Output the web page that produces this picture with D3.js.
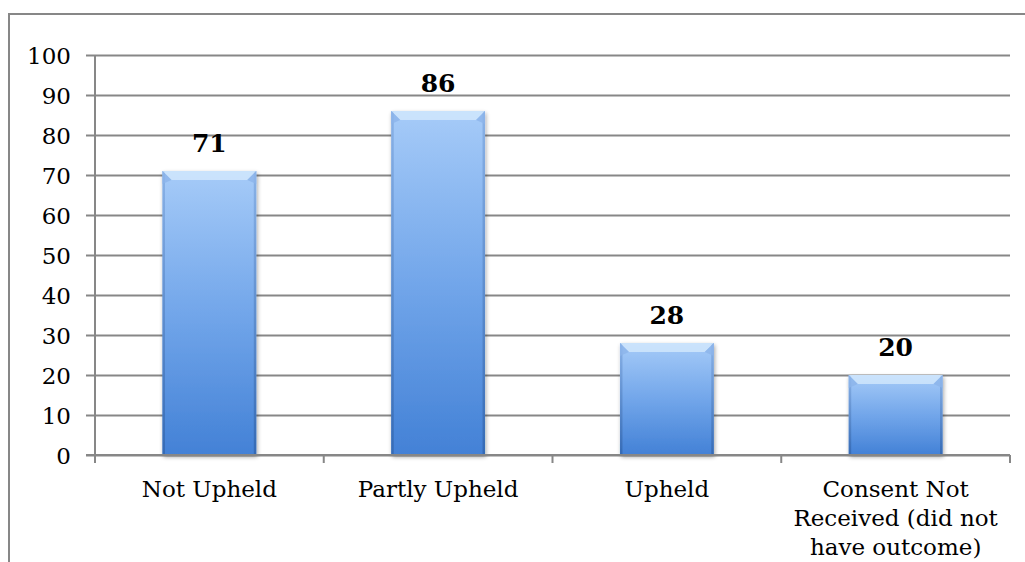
<!DOCTYPE html>
<html>
<head>
<meta charset="utf-8">
<script src="https://cdn.jsdelivr.net/npm/d3@7/dist/d3.min.js"></script>
<style>
  html, body { margin: 0; padding: 0; background: #ffffff; }
  svg { display: block; }
  text { font-family: "DejaVu Serif", "Liberation Serif", serif; fill: #000; }
</style>
</head>
<body>
<svg id="chart" width="1025" height="562"></svg>
<script>
const categories = ["Not Upheld", "Partly Upheld", "Upheld", "Consent Not Received (did not have outcome)"];
const values = [71, 86, 28, 20];
const yTicks = [0, 10, 20, 30, 40, 50, 60, 70, 80, 90, 100];

const svg = d3.select("#chart");
const plot = { left: 95, right: 1010, top: 55, bottom: 455 };

// outer frame (extends past right/bottom edges like the reference)
svg.append("rect")
  .attr("x", 9).attr("y", 14).attr("width", 1030).attr("height", 560)
  .attr("fill", "#fff").attr("stroke", "#878787").attr("stroke-width", 2);

const x = d3.scaleBand().domain(categories).range([plot.left, plot.right]).padding(0);
const y = d3.scaleLinear().domain([0, 100]).range([plot.bottom, plot.top]);

const defs = svg.append("defs");
const grad = defs.append("linearGradient").attr("id", "barGrad")
  .attr("x1", 0).attr("y1", 0).attr("x2", 0).attr("y2", 1);
grad.append("stop").attr("offset", "0%").attr("stop-color", "#a6cbf8");
grad.append("stop").attr("offset", "50%").attr("stop-color", "#72a6ea");
grad.append("stop").attr("offset", "100%").attr("stop-color", "#4381d6");

const sideGrad = defs.append("linearGradient").attr("id", "sideGrad")
  .attr("x1", 0).attr("y1", 0).attr("x2", 0).attr("y2", 1);
sideGrad.append("stop").attr("offset", "0%").attr("stop-color", "#7ea8e0");
sideGrad.append("stop").attr("offset", "100%").attr("stop-color", "#2f61a8");

const shadow = defs.append("filter").attr("id", "shadow")
  .attr("x", "-10%").attr("y", "-10%").attr("width", "130%").attr("height", "130%");
shadow.append("feGaussianBlur").attr("in", "SourceAlpha").attr("stdDeviation", 2);
shadow.append("feOffset").attr("dx", 1).attr("dy", 2).attr("result", "off");
shadow.append("feComponentTransfer").append("feFuncA").attr("type", "linear").attr("slope", 0.35);
const merge = shadow.append("feMerge");
merge.append("feMergeNode");
merge.append("feMergeNode").attr("in", "SourceGraphic");

// gridlines
const grid = svg.append("g").attr("transform", `translate(${plot.left},0)`)
  .call(d3.axisLeft(y).tickValues(yTicks).tickSize(-(plot.right - plot.left)).tickFormat(""));
grid.select(".domain").remove();
grid.selectAll(".tick line").attr("stroke", "#878787").attr("stroke-width", 2);

// y axis
const yAxis = svg.append("g").attr("transform", `translate(${plot.left},0)`)
  .call(d3.axisLeft(y).tickValues(yTicks).tickSize(9).tickPadding(15));
yAxis.select(".domain").attr("stroke", "#878787").attr("stroke-width", 2)
  .attr("d", `M0,${plot.top}V${plot.bottom}`);
yAxis.selectAll(".tick line").attr("stroke", "#878787").attr("stroke-width", 2);
yAxis.selectAll(".tick text").attr("font-size", 23).attr("font-family", "DejaVu Serif")
  .attr("fill", "#000").attr("dy", "0.38em");

// bars
const barW = x.bandwidth() * 0.41;
const bars = svg.append("g").selectAll("g.bar").data(categories).join("g").attr("class", "bar")
  .attr("filter", "url(#shadow)");
bars.append("rect")
  .attr("x", d => x(d) + (x.bandwidth() - barW) / 2)
  .attr("y", (d, i) => y(values[i]))
  .attr("width", barW)
  .attr("height", (d, i) => y(0) - y(values[i]))
  .attr("fill", "url(#barGrad)");
// side edges
bars.append("rect")
  .attr("x", d => x(d) + (x.bandwidth() - barW) / 2)
  .attr("y", (d, i) => y(values[i]))
  .attr("width", 2.5)
  .attr("height", (d, i) => y(0) - y(values[i]))
  .attr("fill", "url(#sideGrad)").attr("opacity", 0.7);
bars.append("rect")
  .attr("x", d => x(d) + (x.bandwidth() + barW) / 2 - 2.5)
  .attr("y", (d, i) => y(values[i]))
  .attr("width", 2.5)
  .attr("height", (d, i) => y(0) - y(values[i]))
  .attr("fill", "url(#sideGrad)").attr("opacity", 0.7);
// top bevel highlight
bars.append("path")
  .attr("d", (d, i) => {
    const x0 = x(d) + (x.bandwidth() - barW) / 2, x1 = x0 + barW, t = y(values[i]), b = 9;
    return `M${x0},${t}L${x1},${t}L${x1 - b},${t + b}L${x0 + b},${t + b}Z`;
  })
  .attr("fill", "#d3e9fd").attr("opacity", 0.8);
bars.append("path")
  .attr("d", (d, i) => {
    const x0 = x(d) + (x.bandwidth() - barW) / 2, x1 = x0 + barW, t = y(values[i]), b = 9;
    return `M${x0},${t}L${x0 + b},${t + b}L${x0},${t + b + 4}Z M${x1},${t}L${x1 - b},${t + b}L${x1},${t + b + 4}Z`;
  })
  .attr("fill", "#8cb4ea").attr("opacity", 0.8);

// value labels
svg.append("g").selectAll("text").data(categories).join("text")
  .attr("x", d => x(d) + x.bandwidth() / 2)
  .attr("y", (d, i) => y(values[i]) - 19)
  .attr("text-anchor", "middle")
  .attr("font-size", 25).attr("font-weight", "bold")
  .text((d, i) => values[i]);

// x axis line and boundary ticks
const xAxisG = svg.append("g").attr("transform", `translate(0,${plot.bottom})`);
xAxisG.append("line").attr("x1", plot.left - 9).attr("x2", plot.right)
  .attr("stroke", "#878787").attr("stroke-width", 2);
const bounds = categories.map(c => x(c)).concat([x(categories[categories.length - 1]) + x.bandwidth()]);
xAxisG.selectAll("line.b").data(bounds).join("line").attr("class", "b")
  .attr("x1", d => d).attr("x2", d => d).attr("y1", 0).attr("y2", 8)
  .attr("stroke", "#878787").attr("stroke-width", 2);

// category labels (wrapped)
const labels = svg.append("g").selectAll("text").data(categories).join("text")
  .attr("x", d => x(d) + x.bandwidth() / 2)
  .attr("y", 497)
  .attr("text-anchor", "middle")
  .attr("font-size", 23);
labels.each(function(d) {
  const t = d3.select(this);
  const words = d.split(" ");
  let line = [];
  let tspan = t.append("tspan").attr("x", t.attr("x")).attr("dy", 0);
  for (const w of words) {
    line.push(w);
    tspan.text(line.join(" "));
    if (tspan.node().getComputedTextLength() > 210 && line.length > 1) {
      line.pop();
      tspan.text(line.join(" "));
      line = [w];
      tspan = t.append("tspan").attr("x", t.attr("x")).attr("dy", 29).text(w);
    }
  }
});
</script>
</body>
</html>
